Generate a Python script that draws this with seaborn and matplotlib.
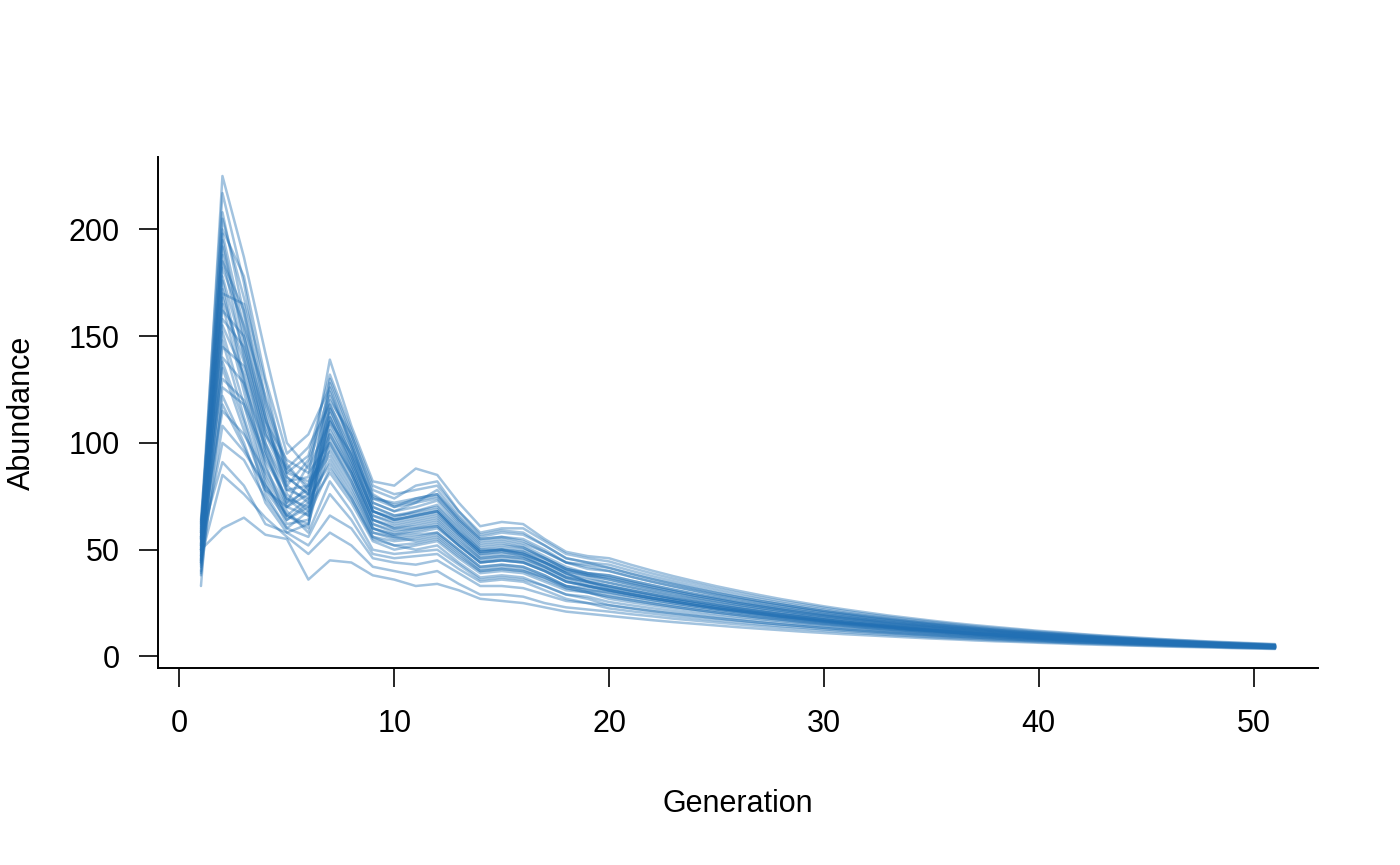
import pandas as pd
import seaborn as sns
import matplotlib.pyplot as plt

# generations 1..51
generation = list(range(1, 52))

# simulated abundance runs
run01 = [55, 225, 187, 142, 100, 88, 110, 95, 74, 72, 74, 76, 64, 55, 56, 54, 49, 44, 42, 40,
         37.4, 35.0, 32.8, 30.7, 28.7, 26.9, 25.2, 23.6, 22.1, 20.7, 19.4, 18.1, 17.0, 15.9, 14.9, 13.9,
         13.0, 12.2, 11.4, 10.7, 10.0, 9.4, 8.8, 8.2, 7.7, 7.2, 6.7, 6.3, 5.9, 5.5, 5.2]
run02 = [62, 217, 175, 120, 88, 80, 122, 100, 72, 68, 70, 73, 62, 52, 53, 51, 46, 41, 38, 36,
         33.7, 31.6, 29.6, 27.7, 26.0, 24.3, 22.8, 21.4, 20.0, 18.8, 17.6, 16.5, 15.4, 14.5, 13.6, 12.7,
         11.9, 11.2, 10.5, 9.8, 9.2, 8.6, 8.1, 7.5, 7.1, 6.6, 6.2, 5.8, 5.5, 5.1, 4.8]
run03 = [58, 208, 160, 112, 78, 74, 130, 104, 76, 70, 72, 78, 66, 56, 58, 57, 52, 46, 44, 43,
         40.2, 37.6, 35.2, 32.9, 30.7, 28.7, 26.9, 25.1, 23.5, 22.0, 20.5, 19.2, 18.0, 16.8, 15.7, 14.7,
         13.7, 12.8, 12.0, 11.2, 10.5, 9.8, 9.2, 8.6, 8.0, 7.5, 7.0, 6.6, 6.2, 5.8, 5.4]
run04 = [50, 200, 178, 130, 95, 104, 126, 98, 70, 66, 68, 70, 60, 50, 50, 48, 44, 39, 35, 33,
         31.0, 29.1, 27.2, 25.6, 24.0, 22.5, 21.1, 19.8, 18.6, 17.4, 16.3, 15.3, 14.4, 13.5, 12.6, 11.9,
         11.1, 10.4, 9.8, 9.2, 8.6, 8.1, 7.6, 7.1, 6.7, 6.3, 5.9, 5.5, 5.2, 4.9, 4.6]
run05 = [64, 192, 150, 104, 82, 84, 139, 108, 82, 80, 88, 85, 72, 61, 63, 62, 55, 49, 47, 46,
         43.0, 40.2, 37.6, 35.2, 32.9, 30.8, 28.8, 26.9, 25.2, 23.5, 22.0, 20.6, 19.2, 18.0, 16.8, 15.7,
         14.7, 13.8, 12.9, 12.0, 11.3, 10.5, 9.8, 9.2, 8.6, 8.0, 7.5, 7.0, 6.6, 6.2, 5.8]
run06 = [45, 188, 140, 96, 70, 66, 112, 90, 66, 62, 64, 66, 57, 48, 49, 47, 43, 38, 36, 34.5,
         32.4, 30.4, 28.4, 26.7, 25.0, 23.4, 22.0, 20.6, 19.3, 18.1, 17.0, 15.9, 14.9, 14.0, 13.1, 12.3,
         11.5, 10.8, 10.2, 9.5, 8.9, 8.4, 7.9, 7.3, 6.9, 6.5, 6.1, 5.7, 5.4, 5.0, 4.7]
run07 = [52, 182, 155, 122, 90, 78, 104, 86, 62, 58, 60, 62, 53, 45, 46, 45, 41, 36, 33, 31,
         29.1, 27.3, 25.7, 24.1, 22.6, 21.3, 20.0, 18.7, 17.6, 16.5, 15.5, 14.6, 13.7, 12.8, 12.1, 11.3,
         10.6, 10.0, 9.4, 8.8, 8.3, 7.8, 7.3, 6.8, 6.4, 6.0, 5.7, 5.3, 5.0, 4.7, 4.4]
run08 = [48, 176, 130, 90, 64, 70, 118, 96, 70, 66, 67, 69, 59, 50, 51, 50, 46, 41, 39, 38,
         35.6, 33.4, 31.3, 29.3, 27.5, 25.7, 24.1, 22.6, 21.2, 19.8, 18.6, 17.4, 16.3, 15.3, 14.3, 13.4,
         12.6, 11.8, 11.0, 10.3, 9.7, 9.1, 8.5, 8.0, 7.5, 7.0, 6.6, 6.1, 5.8, 5.4, 5.1]
run09 = [40, 170, 165, 118, 86, 82, 96, 80, 58, 56, 57, 58, 50, 42, 43, 42, 38, 33, 31, 29,
         27.3, 25.6, 24.1, 22.6, 21.3, 20.0, 18.8, 17.7, 16.6, 15.6, 14.7, 13.8, 13.0, 12.2, 11.5, 10.8,
         10.1, 9.5, 8.9, 8.4, 7.9, 7.4, 7.0, 6.6, 6.2, 5.8, 5.5, 5.1, 4.8, 4.5, 4.3]
run10 = [60, 165, 124, 84, 66, 60, 128, 102, 75, 71, 73, 75, 64, 54, 55, 53, 49, 44, 43, 41.5,
         38.8, 36.3, 34.0, 31.8, 29.7, 27.8, 26.0, 24.4, 22.8, 21.3, 20.0, 18.7, 17.5, 16.4, 15.3, 14.3,
         13.4, 12.5, 11.7, 11.0, 10.3, 9.6, 9.0, 8.4, 7.9, 7.3, 6.9, 6.4, 6.0, 5.7, 5.3]
run11 = [33, 158, 145, 110, 92, 86, 100, 84, 60, 56, 54, 56, 48, 40, 41, 40, 37, 32, 30, 27,
         25.4, 23.9, 22.5, 21.2, 19.9, 18.7, 17.6, 16.6, 15.6, 14.7, 13.8, 13.0, 12.2, 11.5, 10.8, 10.2,
         9.6, 9.0, 8.5, 8.0, 7.5, 7.1, 6.6, 6.3, 5.9, 5.5, 5.2, 4.9, 4.6, 4.4, 4.1]
run12 = [55, 152, 118, 82, 62, 64, 114, 92, 68, 64, 66, 68, 58, 49, 50, 49, 44, 40, 38, 37,
         34.7, 32.5, 30.5, 28.5, 26.8, 25.0, 23.5, 22.0, 20.6, 19.3, 18.1, 17.0, 15.9, 14.9, 14.0, 13.1,
         12.3, 11.5, 10.8, 10.1, 9.5, 8.9, 8.3, 7.8, 7.3, 6.8, 6.4, 6.0, 5.7, 5.3, 5.0]
run13 = [47, 145, 136, 100, 80, 72, 92, 76, 56, 54, 55, 57, 49, 41, 42, 41, 37, 33, 32, 30,
         28.2, 26.5, 24.9, 23.4, 22.0, 20.7, 19.4, 18.2, 17.1, 16.1, 15.1, 14.2, 13.4, 12.5, 11.8, 11.1,
         10.4, 9.8, 9.2, 8.6, 8.1, 7.6, 7.2, 6.7, 6.3, 5.9, 5.6, 5.2, 4.9, 4.6, 4.4]
run14 = [42, 138, 110, 76, 60, 68, 108, 88, 64, 60, 61, 63, 54, 46, 47, 46, 42, 37, 34, 32,
         30.1, 28.2, 26.5, 24.9, 23.3, 21.9, 20.6, 19.3, 18.1, 17.0, 15.9, 15.0, 14.1, 13.2, 12.4, 11.6,
         10.9, 10.2, 9.6, 9.0, 8.5, 8.0, 7.5, 7.0, 6.6, 6.2, 5.8, 5.4, 5.1, 4.8, 4.5]
run15 = [57, 130, 120, 94, 74, 70, 86, 72, 54, 50, 52, 54, 46, 39, 40, 39, 35, 31, 30, 28,
         26.4, 24.8, 23.3, 21.9, 20.6, 19.4, 18.2, 17.2, 16.1, 15.2, 14.3, 13.4, 12.6, 11.9, 11.2, 10.5,
         9.9, 9.3, 8.7, 8.2, 7.7, 7.3, 6.8, 6.5, 6.1, 5.7, 5.4, 5.0, 4.7, 4.5, 4.2]
run16 = [38, 122, 100, 72, 58, 62, 98, 82, 60, 57, 58, 60, 52, 44, 45, 44, 40, 35, 33, 31,
         29.1, 27.3, 25.7, 24.1, 22.6, 21.3, 20.0, 18.7, 17.6, 16.5, 15.5, 14.6, 13.7, 12.8, 12.1, 11.3,
         10.6, 10.0, 9.4, 8.8, 8.3, 7.8, 7.3, 6.8, 6.4, 6.0, 5.7, 5.3, 5.0, 4.7, 4.4]
run17 = [53, 115, 104, 86, 68, 58, 82, 68, 50, 48, 49, 50, 43, 36, 37, 36, 33, 29, 27, 24,
         22.6, 21.3, 20.1, 19.0, 17.9, 16.9, 15.9, 15.0, 14.2, 13.4, 12.6, 11.9, 11.2, 10.6, 10.0, 9.4,
         8.9, 8.4, 7.9, 7.5, 7.0, 6.6, 6.3, 5.9, 5.6, 5.3, 5.0, 4.7, 4.4, 4.2, 3.9]
run18 = [44, 108, 96, 80, 66, 74, 90, 74, 56, 52, 50, 52, 44, 37, 38, 37, 33, 29, 28, 25.5,
         24.0, 22.6, 21.3, 20.1, 18.9, 17.8, 16.8, 15.8, 14.9, 14.1, 13.2, 12.5, 11.7, 11.1, 10.4, 9.8,
         9.3, 8.7, 8.2, 7.8, 7.3, 6.9, 6.5, 6.1, 5.8, 5.4, 5.1, 4.8, 4.5, 4.3, 4.0]
run19 = [50, 100, 92, 74, 60, 56, 76, 64, 48, 46, 47, 48, 41, 35, 36, 35, 31, 27, 25, 22.5,
         21.2, 20.1, 18.9, 17.9, 16.9, 16.0, 15.1, 14.2, 13.5, 12.7, 12.0, 11.3, 10.7, 10.1, 9.5, 9.0,
         8.5, 8.0, 7.6, 7.2, 6.7, 6.4, 6.1, 5.7, 5.4, 5.1, 4.8, 4.6, 4.3, 4.1, 3.8]
run20 = [56, 91, 80, 62, 58, 52, 66, 60, 46, 44, 43, 45, 39, 33, 33, 32, 29, 26, 25, 24,
         22.6, 21.3, 20.1, 19.0, 17.9, 16.9, 15.9, 15.0, 14.2, 13.4, 12.6, 11.9, 11.2, 10.6, 10.0, 9.4,
         8.9, 8.4, 7.9, 7.5, 7.0, 6.6, 6.3, 5.9, 5.6, 5.3, 5.0, 4.7, 4.4, 4.2, 3.9]
run21 = [46, 85, 76, 65, 56, 48, 58, 52, 42, 40, 38, 40, 34, 29, 29, 28, 25, 23, 22, 21,
         19.8, 18.8, 17.7, 16.8, 15.9, 15.0, 14.2, 13.4, 12.7, 12.0, 11.3, 10.7, 10.1, 9.6, 9.0, 8.5,
         8.1, 7.6, 7.2, 6.8, 6.4, 6.1, 5.8, 5.4, 5.1, 4.9, 4.6, 4.4, 4.1, 3.9, 3.7]
run22 = [50, 60, 65, 57, 55, 36, 45, 44, 38, 36, 33, 34, 31, 27, 26, 25, 23, 21, 20, 19,
         18.0, 17.0, 16.1, 15.3, 14.5, 13.7, 13.0, 12.3, 11.6, 11.0, 10.4, 9.9, 9.4, 8.9, 8.4, 8.0,
         7.5, 7.1, 6.8, 6.4, 6.1, 5.7, 5.4, 5.2, 4.9, 4.6, 4.4, 4.2, 3.9, 3.7, 3.5]
run23 = [59, 205, 168, 128, 84, 76, 116, 94, 68, 64, 66, 68, 58, 49, 50, 48, 44, 39, 35, 33,
         31.0, 29.1, 27.2, 25.6, 24.0, 22.5, 21.1, 19.8, 18.6, 17.4, 16.3, 15.3, 14.4, 13.5, 12.6, 11.9,
         11.1, 10.4, 9.8, 9.2, 8.6, 8.1, 7.6, 7.1, 6.7, 6.3, 5.9, 5.5, 5.2, 4.9, 4.6]
run24 = [43, 195, 146, 100, 72, 90, 120, 104, 78, 74, 80, 82, 68, 58, 60, 60, 54, 48, 46, 44.5,
         41.6, 38.9, 36.4, 34.1, 31.8, 29.8, 27.8, 26.0, 24.4, 22.8, 21.3, 19.9, 18.6, 17.4, 16.3, 15.2,
         14.2, 13.3, 12.5, 11.6, 10.9, 10.2, 9.5, 8.9, 8.3, 7.8, 7.3, 6.8, 6.4, 6.0, 5.6]
run25 = [61, 185, 162, 115, 80, 92, 124, 100, 72, 68, 72, 74, 63, 53, 54, 52, 47, 42, 39, 37,
         34.7, 32.5, 30.5, 28.5, 26.8, 25.0, 23.5, 22.0, 20.6, 19.3, 18.1, 17.0, 15.9, 14.9, 14.0, 13.1,
         12.3, 11.5, 10.8, 10.1, 9.5, 8.9, 8.3, 7.8, 7.3, 6.8, 6.4, 6.0, 5.7, 5.3, 5.0]
run26 = [49, 178, 142, 106, 84, 76, 106, 88, 64, 60, 62, 64, 55, 46, 47, 46, 42, 37, 35, 33,
         31.0, 29.1, 27.2, 25.6, 24.0, 22.5, 21.1, 19.8, 18.6, 17.4, 16.3, 15.3, 14.4, 13.5, 12.6, 11.9,
         11.1, 10.4, 9.8, 9.2, 8.6, 8.1, 7.6, 7.1, 6.7, 6.3, 5.9, 5.5, 5.2, 4.9, 4.6]
run27 = [54, 172, 128, 88, 70, 80, 116, 94, 68, 65, 68, 71, 61, 51, 52, 51, 46, 41, 39, 38,
         35.6, 33.4, 31.3, 29.3, 27.5, 25.7, 24.1, 22.6, 21.2, 19.8, 18.6, 17.4, 16.3, 15.3, 14.3, 13.4,
         12.6, 11.8, 11.0, 10.3, 9.7, 9.1, 8.5, 8.0, 7.5, 7.0, 6.6, 6.1, 5.8, 5.4, 5.1]
run28 = [44, 162, 150, 112, 76, 68, 102, 86, 62, 59, 60, 61, 52, 44, 45, 44, 40, 35, 33, 31,
         29.1, 27.3, 25.7, 24.1, 22.6, 21.3, 20.0, 18.7, 17.6, 16.5, 15.5, 14.6, 13.7, 12.8, 12.1, 11.3,
         10.6, 10.0, 9.4, 8.8, 8.3, 7.8, 7.3, 6.8, 6.4, 6.0, 5.7, 5.3, 5.0, 4.7, 4.4]
run29 = [58, 155, 132, 96, 72, 78, 110, 90, 66, 63, 65, 67, 57, 48, 49, 48, 44, 39, 37, 34.5,
         32.4, 30.4, 28.4, 26.7, 25.0, 23.4, 22.0, 20.6, 19.3, 18.1, 17.0, 15.9, 14.9, 14.0, 13.1, 12.3,
         11.5, 10.8, 10.2, 9.5, 8.9, 8.4, 7.9, 7.3, 6.9, 6.5, 6.1, 5.7, 5.4, 5.0, 4.7]
run30 = [51, 148, 112, 80, 66, 62, 104, 86, 64, 61, 63, 65, 56, 47, 48, 47, 42, 37, 35, 32,
         30.1, 28.2, 26.5, 24.9, 23.3, 21.9, 20.6, 19.3, 18.1, 17.0, 15.9, 15.0, 14.1, 13.2, 12.4, 11.6,
         10.9, 10.2, 9.6, 9.0, 8.5, 8.0, 7.5, 7.0, 6.6, 6.2, 5.8, 5.4, 5.1, 4.8, 4.5]
run31 = [39, 140, 128, 98, 78, 80, 94, 78, 58, 55, 56, 58, 50, 42, 43, 42, 38, 33, 31, 30,
         28.2, 26.5, 24.9, 23.4, 22.0, 20.7, 19.4, 18.2, 17.1, 16.1, 15.1, 14.2, 13.4, 12.5, 11.8, 11.1,
         10.4, 9.8, 9.2, 8.6, 8.1, 7.6, 7.2, 6.7, 6.3, 5.9, 5.6, 5.2, 4.9, 4.6, 4.4]
run32 = [63, 135, 106, 78, 64, 72, 112, 92, 68, 64, 66, 68, 58, 49, 50, 49, 45, 40, 38, 36,
         33.7, 31.6, 29.6, 27.7, 26.0, 24.3, 22.8, 21.4, 20.0, 18.8, 17.6, 16.5, 15.4, 14.5, 13.6, 12.7,
         11.9, 11.2, 10.5, 9.8, 9.2, 8.6, 8.1, 7.5, 7.1, 6.6, 6.2, 5.8, 5.5, 5.1, 4.8]
run33 = [47, 126, 118, 92, 74, 66, 88, 74, 55, 52, 53, 55, 47, 40, 41, 40, 36, 32, 30, 28,
         26.4, 24.8, 23.3, 21.9, 20.6, 19.4, 18.2, 17.2, 16.1, 15.2, 14.3, 13.4, 12.6, 11.9, 11.2, 10.5,
         9.9, 9.3, 8.7, 8.2, 7.7, 7.3, 6.8, 6.5, 6.1, 5.7, 5.4, 5.0, 4.7, 4.5, 4.2]
run34 = [56, 118, 98, 78, 70, 76, 100, 82, 60, 57, 59, 61, 52, 44, 45, 44, 40, 35, 33, 31,
         29.1, 27.3, 25.7, 24.1, 22.6, 21.3, 20.0, 18.7, 17.6, 16.5, 15.5, 14.6, 13.7, 12.8, 12.1, 11.3,
         10.6, 10.0, 9.4, 8.8, 8.3, 7.8, 7.3, 6.8, 6.4, 6.0, 5.7, 5.3, 5.0, 4.7, 4.4]
run35 = [52, 198, 154, 108, 86, 94, 132, 106, 80, 76, 78, 80, 68, 57, 59, 58, 52, 46, 44, 41.5,
         38.8, 36.3, 34.0, 31.8, 29.7, 27.8, 26.0, 24.4, 22.8, 21.3, 20.0, 18.7, 17.5, 16.4, 15.3, 14.3,
         13.4, 12.5, 11.7, 11.0, 10.3, 9.6, 9.0, 8.4, 7.9, 7.3, 6.9, 6.4, 6.0, 5.7, 5.3]
run36 = [45, 168, 138, 104, 88, 98, 118, 98, 74, 70, 74, 76, 65, 55, 56, 55, 50, 44, 41, 40,
         37.4, 35.0, 32.8, 30.7, 28.7, 26.9, 25.2, 23.6, 22.1, 20.7, 19.4, 18.1, 17.0, 15.9, 14.9, 13.9,
         13.0, 12.2, 11.4, 10.7, 10.0, 9.4, 8.8, 8.2, 7.7, 7.2, 6.7, 6.3, 5.9, 5.5, 5.2]

runs = [run01, run02, run03, run04, run05, run06, run07, run08, run09, run10, run11, run12,
        run13, run14, run15, run16, run17, run18, run19, run20, run21, run22, run23, run24,
        run25, run26, run27, run28, run29, run30, run31, run32, run33, run34, run35, run36]

x_ticks = [0, 10, 20, 30, 40, 50]
y_ticks = [0, 50, 100, 150, 200]

# long format table for seaborn
rows = []
for i, r in enumerate(runs):
    for g, v in zip(generation, r):
        rows.append({"run": i, "Generation": g, "Abundance": v})
data = pd.DataFrame(rows)

sns.set_style("white")
plt.rcParams['font.family'] = ['Liberation Sans', 'DejaVu Sans']

fig = plt.figure(figsize=(14, 8.65), dpi=100)
ax = fig.add_axes([158 / 1400, 1 - 668 / 865, 1160 / 1400, 511 / 865])

sns.lineplot(data=data, x="Generation", y="Abundance", units="run", estimator=None,
             color="#2270B4", alpha=0.42, linewidth=1.8, legend=False, ax=ax)

ax.set_xlim(-1, 53)
ax.set_ylim(-5.4, 233.9)
ax.set_xticks(x_ticks)
ax.set_yticks(y_ticks)

for s in ["top", "right"]:
    ax.spines[s].set_visible(False)
for s in ["left", "bottom"]:
    ax.spines[s].set_color("black")
    ax.spines[s].set_linewidth(1.4)

ax.tick_params(axis="both", direction="out", length=13.5, width=1.2, colors="black",
               labelsize=22, left=True, bottom=True)
ax.tick_params(axis="y", pad=14)
ax.tick_params(axis="x", pad=16)

ax.set_xlabel("Generation", fontsize=22, color="black")
ax.set_ylabel("Abundance", fontsize=22, color="black")
ax.xaxis.set_label_coords(0.5, (668 - 804) / 511)
ax.xaxis.label.set_va("center")
ax.yaxis.set_label_coords((22 - 158) / 1160, 0.5)
ax.yaxis.label.set_va("center")

fig.savefig("out.png", dpi=100)
